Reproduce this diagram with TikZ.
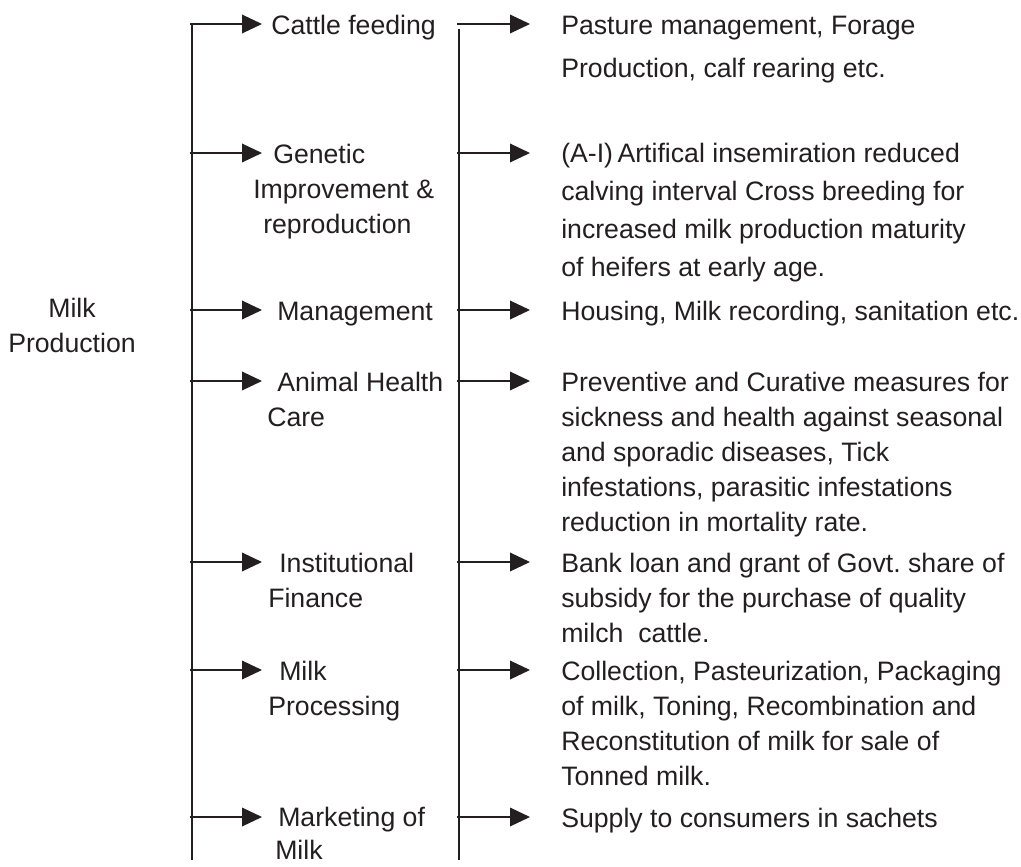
\documentclass[tikz,border=0pt]{standalone}
\usepackage{fontspec}
\setmainfont{Liberation Sans}
\usetikzlibrary{arrows.meta}
\definecolor{ink}{RGB}{35,31,32}
\newcommand{\tp}{\rule{0pt}{18pt}}
\frenchspacing

\begin{document}
\begin{tikzpicture}
[x=0.75pt, y=-0.75pt,
 every node/.style={inner sep=0pt, text=ink},
 lbl/.style={anchor=north west, align=left, font=\fontsize{20pt}{26.25pt}\selectfont},
 trunk/.style={line width=1.4pt, draw=ink},
 arr/.style={line width=1pt, draw=ink, -{Triangle[length=15pt, width=14pt]}}]
\useasboundingbox (0,0) rectangle (1021,867);
% root
\node (milk) [lbl, anchor=north, align=center] at (72,293) {\tp Milk\\Production};
% trunks
\coordinate (ltop) at (192,23);
\coordinate (lbot) at (192,860);
\coordinate (rtop) at (459,29);
\coordinate (rbot) at (459,860);
\draw [trunk] (ltop) -- (lbot);
\draw [trunk] (rtop) -- (rbot);
% branches
\foreach \n/\y in {1/24, 2/153, 3/310, 4/381, 5/562, 6/670, 7/817} {
  \coordinate (ls\n) at (190,\y);
  \coordinate (lh\n) at (262,\y);
  \coordinate (rs\n) at (457,\y);
  \coordinate (rh\n) at (530,\y);
  \draw [arr] (ls\n) -- (lh\n);
  \draw [arr] (rs\n) -- (rh\n);
}
% activities
\node (feed) [lbl] at (271,10) {\tp Cattle feeding};
\node (genetic) [lbl] at (253,139) {\tp\hspace*{15pt}Genetic\\Improvement \&\\\hspace*{7.5pt}reproduction};
\node (manage) [lbl] at (277,296) {\tp Management};
\node (health) [lbl] at (267,367) {\tp\hspace*{7.5pt}Animal Health\\Care};
\node (finance) [lbl] at (268,548) {\tp\hspace*{8.25pt}Institutional\\Finance};
\node (process) [lbl] at (268,656) {\tp\hspace*{8.25pt}Milk\\Processing};
\node (market) [lbl, font=\fontsize{20pt}{24.75pt}\selectfont] at (275,802) {\tp\hspace*{2.25pt}Marketing of\\Milk};
% details
\node (feedtxt) [lbl, font=\fontsize{20pt}{32.25pt}\selectfont] at (561,10) {\tp Pasture management, Forage\\Production, calf rearing etc.};
\node (genetictxt) [lbl, font=\fontsize{20pt}{28.5pt}\selectfont] at (561,138) {\tp(A-I)\,Artifical insemiration reduced\\calving interval Cross breeding for\\increased milk production maturity\\of heifers at early age.};
\node (managetxt) [lbl] at (561,296) {\tp Housing, Milk recording, sanitation etc.};
\node (healthtxt) [lbl] at (561,367) {\tp Preventive and Curative measures for\\sickness and health against seasonal\\and sporadic diseases, Tick\\infestations, parasitic infestations\\reduction in mortality rate.};
\node (financetxt) [lbl] at (561,548) {\tp Bank loan and grant of Govt. share of\\subsidy for the purchase of quality\\milch\ \ cattle.};
\node (processtxt) [lbl] at (561,656) {\tp Collection, Pasteurization, Packaging\\of milk, Toning, Recombination and\\Reconstitution of milk for sale of\\Tonned milk.};
\node (markettxt) [lbl] at (561,803) {\tp Supply to consumers in sachets};
\end{tikzpicture}
\end{document}
